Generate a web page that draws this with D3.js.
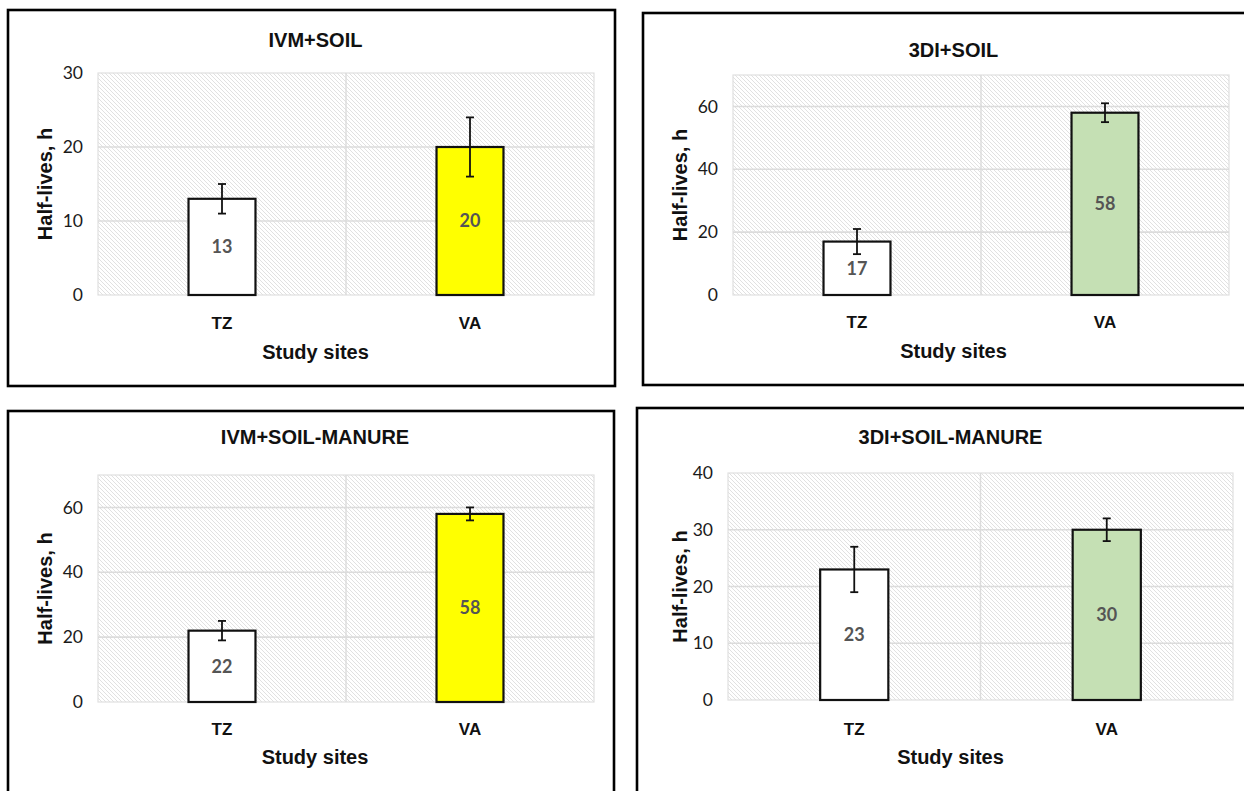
<!DOCTYPE html>
<html><head><meta charset="utf-8">
<script src="https://cdn.jsdelivr.net/npm/d3@7"></script>
<style>html,body{margin:0;padding:0;background:#fff;} svg{display:block;}</style>
</head><body>
<svg id="chart" width="1244" height="791"></svg>
<script>
// ---- data ----
const panelTitles = ["IVM+SOIL", "3DI+SOIL", "IVM+SOIL-MANURE", "3DI+SOIL-MANURE"];
const sites = ["TZ", "VA"];
const halfLives = [[13, 20], [17, 58], [22, 58], [23, 30]];
const halfLifeErrors = [[2, 4], [4, 3], [3, 2], [4, 2]];
const yMaxima = [30, 70, 70, 40];
const yTickValues = [[0, 10, 20, 30], [0, 20, 40, 60], [0, 20, 40, 60], [0, 10, 20, 30, 40]];
const vaColours = ["#FFFF00", "#C5E0B4", "#FFFF00", "#C5E0B4"];
const xAxisTitle = "Study sites";
const yAxisTitle = "Half-lives, h";

// ---- layout ----
const layout = [
  {box: [8, 10, 615, 386], plot: [98, 73, 594, 295], titleY: 47, catY: 329, xtY: 359, ylX: 52},
  {box: [643, 13, 1256, 385], plot: [733, 75, 1229, 295], titleY: 57, catY: 328, xtY: 358, ylX: 687},
  {box: [8, 411, 614, 802], plot: [98, 475, 594, 702], titleY: 444, catY: 735, xtY: 764, ylX: 52},
  {box: [637, 408, 1256, 802], plot: [728, 473, 1233, 700], titleY: 444, catY: 735, xtY: 764, ylX: 687}
];

const svg = d3.select("#chart");
const defs = svg.append("defs");
const pat = defs.append("pattern").attr("id", "hatch").attr("patternUnits", "userSpaceOnUse")
  .attr("width", 4).attr("height", 4);
pat.append("rect").attr("width", 4).attr("height", 4).attr("fill", "#ffffff");
pat.append("path").attr("d", "M-1,-1 L5,5 M-1,3 L1,5 M3,-1 L5,1")
  .attr("stroke", "#d9d9d9").attr("stroke-width", 0.8);

const boldFont = "'Liberation Sans', Arial, sans-serif";
const numFont = "Lato, 'Open Sans', sans-serif";

panelTitles.forEach((title, i) => {
  const L = layout[i];
  const [bx0, by0, bx1, by1] = L.box;
  const [px0, py0, px1, py1] = L.plot;
  const g = svg.append("g");

  // panel border
  g.append("rect").attr("x", bx0).attr("y", by0).attr("width", bx1 - bx0).attr("height", by1 - by0)
    .attr("fill", "#fff").attr("stroke", "#000").attr("stroke-width", 2.6);

  const x = d3.scaleBand().domain(sites).range([px0, px1]).padding(0);
  const y = d3.scaleLinear().domain([0, yMaxima[i]]).range([py1, py0]);

  // plot area hatch
  g.append("rect").attr("x", px0).attr("y", py0).attr("width", px1 - px0).attr("height", py1 - py0)
    .attr("fill", "url(#hatch)").attr("stroke", "#e0e0e0").attr("stroke-width", 1.2);

  // horizontal gridlines
  g.append("g").selectAll("line").data(yTickValues[i].filter(v => v > 0 && v < yMaxima[i])).join("line")
    .attr("x1", px0).attr("x2", px1).attr("y1", d => y(d)).attr("y2", d => y(d))
    .attr("stroke", "#dcdcdc").attr("stroke-width", 1.6);
  // vertical gridline between categories
  g.append("g").selectAll("line").data(sites.slice(1)).join("line")
    .attr("x1", d => x(d)).attr("x2", d => x(d)).attr("y1", py0).attr("y2", py1)
    .attr("stroke", "#dcdcdc").attr("stroke-width", 1.4);

  // y axis
  const yAxis = d3.axisLeft(y).tickValues(yTickValues[i]).tickSize(0).tickPadding(15);
  const ya = g.append("g").attr("transform", `translate(${px0},0)`).call(yAxis);
  ya.select(".domain").remove();
  ya.selectAll("text").attr("font-family", numFont).attr("font-size", 17.5).attr("fill", "#1a1a1a");

  // x axis (category labels)
  const xAxis = d3.axisBottom(x).tickSize(0).tickPadding(0);
  const xa = g.append("g").attr("transform", `translate(0,${L.catY})`).call(xAxis);
  xa.select(".domain").remove();
  xa.selectAll("text").attr("dy", 0).attr("font-family", boldFont).attr("font-weight", "bold")
    .attr("font-size", 17).attr("fill", "#111");

  // bars
  const barW = x.bandwidth() * 0.27;
  const rows = sites.map((s, k) => ({site: s, v: halfLives[i][k], e: halfLifeErrors[i][k], k}));
  g.append("g").selectAll("rect").data(rows).join("rect")
    .attr("x", d => x(d.site) + x.bandwidth() / 2 - barW / 2)
    .attr("y", d => y(d.v)).attr("width", barW).attr("height", d => y(0) - y(d.v))
    .attr("fill", d => d.k === 0 ? "#ffffff" : vaColours[i])
    .attr("stroke", "#111").attr("stroke-width", 2.2);

  // value labels
  g.append("g").selectAll("text").data(rows).join("text")
    .attr("x", d => x(d.site) + x.bandwidth() / 2)
    .attr("y", d => (y(d.v) + y(0)) / 2).attr("dy", "0.36em")
    .attr("text-anchor", "middle").attr("font-family", numFont).attr("font-weight", "bold")
    .attr("font-size", 18).attr("fill", "#555555").text(d => d.v);

  // error bars
  const eb = g.append("g").attr("stroke", "#111").attr("stroke-width", 1.8);
  rows.forEach(d => {
    const cx = x(d.site) + x.bandwidth() / 2;
    eb.append("line").attr("x1", cx).attr("x2", cx).attr("y1", y(d.v + d.e)).attr("y2", y(d.v - d.e));
    [d.v + d.e, d.v - d.e].forEach(v => {
      eb.append("line").attr("x1", cx - 4).attr("x2", cx + 4).attr("y1", y(v)).attr("y2", y(v));
    });
  });

  // titles
  const cx = (bx0 + bx1) / 2 + 4;
  g.append("text").attr("x", cx).attr("y", L.titleY).attr("text-anchor", "middle")
    .attr("font-family", boldFont).attr("font-weight", "bold").attr("font-size", 20)
    .attr("fill", "#111").text(title);
  g.append("text").attr("x", cx).attr("y", L.xtY).attr("text-anchor", "middle")
    .attr("font-family", boldFont).attr("font-weight", "bold").attr("font-size", 20)
    .attr("fill", "#111").text(xAxisTitle);
  g.append("text").attr("transform", `translate(${L.ylX},${(py0 + py1) / 2}) rotate(-90)`)
    .attr("text-anchor", "middle")
    .attr("font-family", boldFont).attr("font-weight", "bold").attr("font-size", 20)
    .attr("fill", "#111").text(yAxisTitle);
});
</script>
</body></html>
